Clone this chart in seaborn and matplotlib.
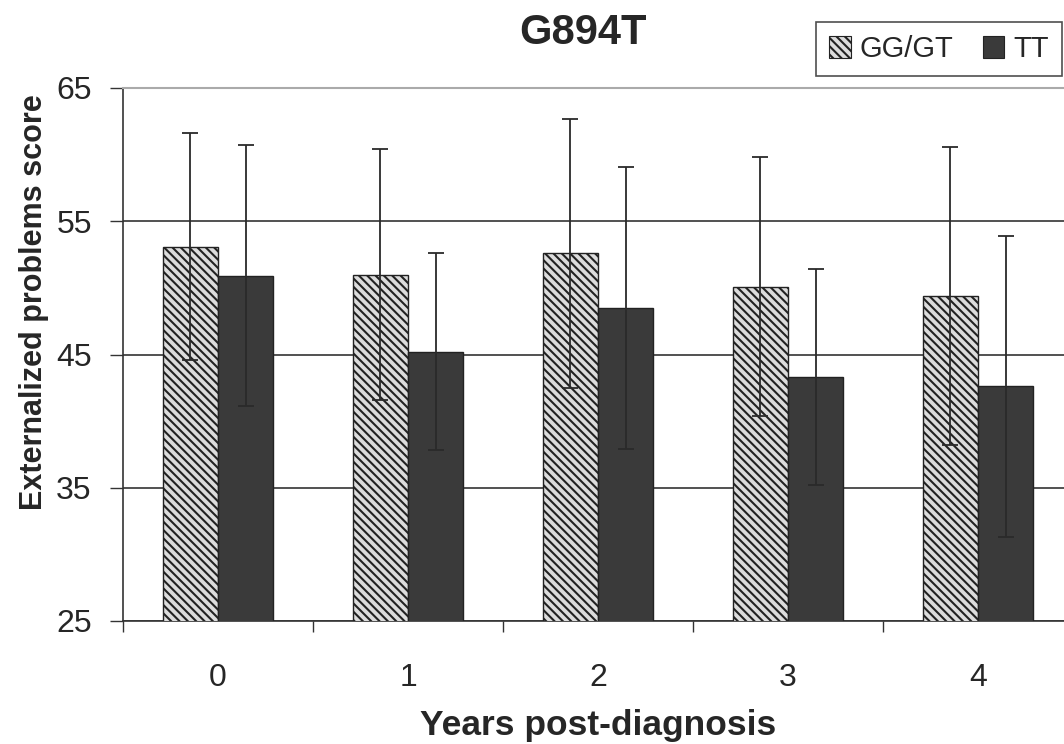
import numpy as np
import pandas as pd
import matplotlib
matplotlib.use("Agg")
import matplotlib.pyplot as plt
import seaborn as sns
from matplotlib.ticker import FixedLocator

# data
years = ["0", "1", "2", "3", "4"]
groups = ["GG/GT", "TT"]
gg_mean = [53.1, 51.0, 52.6, 50.1, 49.4]
gg_err = [8.5, 9.4, 10.1, 9.7, 11.2]
tt_mean = [50.9, 45.2, 48.5, 43.3, 42.6]
tt_err = [9.8, 7.4, 10.6, 8.1, 11.3]

df = pd.DataFrame({
    "year": years * 2,
    "genotype": [groups[0]] * 5 + [groups[1]] * 5,
    "score": gg_mean + tt_mean,
})
errs = {groups[0]: gg_err, groups[1]: tt_err}

sns.set_style("white")
plt.rcParams["font.family"] = ["Liberation Sans", "DejaVu Sans"]
plt.rcParams["hatch.linewidth"] = 1.5
plt.rcParams["hatch.color"] = "#1e1e1e"

HATCH = "\\\\\\\\"  # 4 x 6 lines per inch

fig = plt.figure(figsize=(10.64, 7.44), dpi=100)
ax = fig.add_axes([123 / 1064, 1 - 621 / 744, 950 / 1064, 533 / 744])

dark = "#3a3a3a"
light = "#dcdcdc"
sns.barplot(data=df, x="year", y="score", hue="genotype", order=years,
            hue_order=groups, palette=[light, dark], width=0.58,
            edgecolor="#222222", linewidth=1.0, errorbar=None, ax=ax,
            zorder=3, legend=False)

# hatch the GG/GT bars and add the sd bars at each bar centre
for cont, g in zip(ax.containers, groups):
    xs = []
    for p in cont.patches:
        if g == groups[0]:
            p.set_hatch(HATCH)
        xs.append(p.get_x() + p.get_width() / 2)
    means = [p.get_height() for p in cont.patches]
    ax.errorbar(xs, means, yerr=errs[g], fmt="none", ecolor="#2a2a2a",
                elinewidth=1.3, capsize=5.5, capthick=1.3, zorder=4)

ax.set_ylim(25, 65)
ax.set_xlim(-0.5, 4.5)
ax.set_yticks([25, 35, 45, 55, 65])
ax.yaxis.grid(True, color="#333333", linewidth=1.2, zorder=0)
ax.set_axisbelow(True)
ax.tick_params(axis="y", which="major", length=9.5, width=1.0, color="#333333",
               labelsize=23, pad=13, left=True)
ax.tick_params(axis="x", which="major", length=0, labelsize=23, pad=30)
ax.xaxis.set_minor_locator(FixedLocator([-0.5, 0.5, 1.5, 2.5, 3.5]))
ax.tick_params(axis="x", which="minor", length=8, width=1.0, color="#333333",
               bottom=True)

for s in ["left", "bottom"]:
    ax.spines[s].set_color("#333333")
    ax.spines[s].set_linewidth(1.2)
ax.spines["top"].set_color("#aaaaaa")
ax.spines["top"].set_linewidth(1.5)
ax.spines["right"].set_visible(False)

ax.set_xlabel("Years post-diagnosis", fontsize=25.5, fontweight="bold")
ax.xaxis.set_label_coords(0.5, -0.165)
ax.xaxis.label.set_va("top")
ax.set_ylabel("Externalized problems score", fontsize=22, fontweight="bold")
ax.yaxis.set_label_coords(-0.078, 0.598)

fig.text(583 / 1064, 1 - 33 / 744, "G894T", fontsize=30, fontweight="bold",
         ha="center", va="center")

handles = [plt.Rectangle((0, 0), 1, 1, facecolor=light, edgecolor="#222222",
                         hatch=HATCH, linewidth=0.8),
           plt.Rectangle((0, 0), 1, 1, facecolor=dark, edgecolor="#222222",
                         linewidth=0.8)]
leg = fig.legend(handles, groups, loc="upper right",
                 bbox_to_anchor=(0.998, 1 - 22 / 744), ncol=2, fontsize=21,
                 frameon=True, fancybox=False, edgecolor="#222222",
                 handlelength=0.75, handleheight=0.75, handletextpad=0.3,
                 columnspacing=1.0, borderpad=0.45, borderaxespad=0)
leg.get_frame().set_linewidth(1.2)

fig.savefig("out.png", dpi=100)
